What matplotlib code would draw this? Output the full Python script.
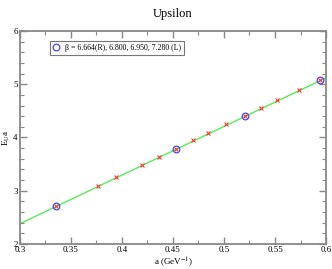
import matplotlib
matplotlib.use("Agg")
import matplotlib.pyplot as plt
from matplotlib.ticker import MultipleLocator

# lattice spacings (GeV^-1) and E*a
beta_a = [0.335, 0.453, 0.521, 0.594]
beta_Ea = [2.71, 3.78, 4.41, 5.08]

pts_a = [0.335, 0.377, 0.394, 0.420, 0.436, 0.453, 0.470, 0.484,
         0.502, 0.521, 0.536, 0.552, 0.574, 0.594]
pts_Ea = [2.71, 3.09, 3.25, 3.49, 3.63, 3.78, 3.95, 4.08,
          4.25, 4.41, 4.56, 4.70, 4.90, 5.08]

fit_a = [0.3, 0.6]
fit_Ea = [2.38, 5.12]

plt.rcParams['font.family'] = ['Liberation Serif', 'DejaVu Serif']
plt.rcParams['mathtext.fontset'] = 'stix'

fig = plt.figure(figsize=(3.32, 2.69), dpi=100)
ax = fig.add_axes([0.060, 0.093, 0.922, 0.792])

ax.plot(fit_a, fit_Ea, color='#55ee55', lw=1.0, zorder=1)
ax.plot(beta_a, beta_Ea, 'o', mfc='none', mec='#4444ff', ms=4.8, mew=0.9,
        label='β = 6.664(R), 6.800, 6.950, 7.280 (L)', zorder=2)
ax.plot(pts_a, pts_Ea, 'x', color='#ff3333', ms=3.5, mew=0.8, zorder=3)

ax.set_xlim(0.3, 0.6)
ax.set_ylim(2, 6)
ax.xaxis.set_minor_locator(MultipleLocator(0.025))
ax.yaxis.set_major_locator(MultipleLocator(1))
ax.yaxis.set_minor_locator(MultipleLocator(0.2))
ax.set_xticks([0.3, 0.35, 0.4, 0.45, 0.5, 0.55, 0.6])
ax.set_xticklabels(['0.3', '0.35', '0.4', '0.45', '0.5', '0.55', '0.6'])

for s in ax.spines.values():
    s.set_color('#888888')
    s.set_linewidth(1.3)
ax.tick_params(which='both', direction='in', top=True, right=True,
               color='#888888', labelsize=6.5, pad=1.5)
ax.tick_params(which='major', length=5, width=1)
ax.tick_params(which='minor', length=3, width=0.8)

ax.set_title('Upsilon', fontsize=9, pad=10)
ax.set_xlabel(r'a (GeV$^{-1}$)', fontsize=6.5, labelpad=1)
ax.set_ylabel(r'E$_{\rm U}$a', fontsize=6.5, labelpad=1)

leg = ax.legend(loc='upper left', bbox_to_anchor=(0.097, 0.952), fontsize=5.6,
                frameon=True, fancybox=False, handlelength=1.0,
                handletextpad=0.6, borderpad=0.35, borderaxespad=0)
leg.get_frame().set_edgecolor('#555555')
leg.get_frame().set_linewidth(0.8)

fig.savefig('out.png', dpi=100)
